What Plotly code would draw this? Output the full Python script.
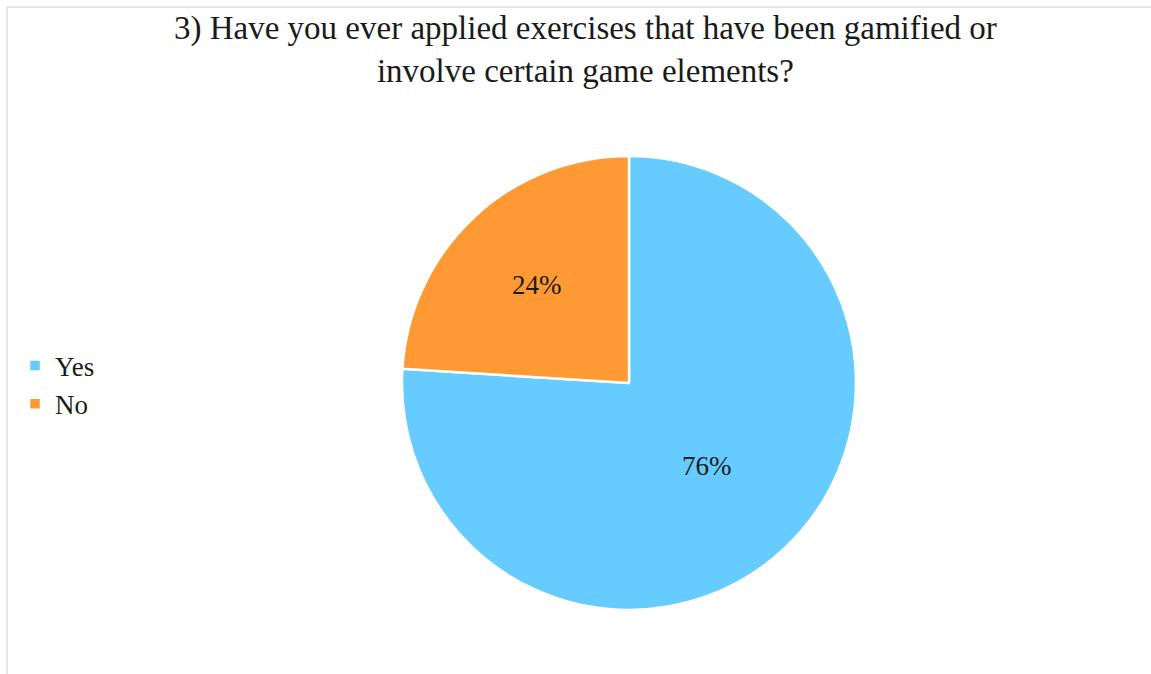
import plotly.graph_objects as go

# Survey answers
labels = ["Yes", "No"]
shares = [76, 24]
colors = ["#66CCFF", "#FF9933"]
title_lines = [
    "3) Have you ever applied exercises that have been gamified or",
    "involve certain game elements?",
]

W, H = 1151, 674
SERIF = "Liberation Serif"

fig = go.Figure(
    go.Pie(
        labels=labels,
        values=shares,
        sort=False,
        direction="clockwise",
        rotation=0,
        marker=dict(colors=colors, line=dict(color="white", width=2.5)),
        texttemplate="%{value}%",
        textposition="inside",
        insidetextorientation="horizontal",
        textfont=dict(family=SERIF, size=27, color="#1a1a1a"),
        hoverinfo="label+percent",
        domain=dict(x=[402 / W, 856 / W], y=[1 - 610 / H, 1 - 156 / H]),
    )
)

fig.update_layout(
    width=W,
    height=H,
    margin=dict(l=0, r=0, t=0, b=0),
    paper_bgcolor="white",
    plot_bgcolor="white",
    font=dict(family=SERIF, color="#1a1a1a"),
    legend=dict(
        x=15 / W,
        xanchor="left",
        y=1 - 385 / H,
        yanchor="middle",
        font=dict(family=SERIF, size=27, color="#1a1a1a"),
        tracegroupgap=0,
    ),
    annotations=[
        dict(
            text="<br>".join(title_lines),
            xref="paper", yref="paper",
            x=585 / W, y=1 - 8 / H,
            xanchor="center", yanchor="top",
            showarrow=False,
            align="center",
            font=dict(family=SERIF, size=33, color="#1a1a1a"),
        )
    ],
    shapes=[
        dict(type="line", xref="paper", yref="paper",
             x0=7 / W, x1=7 / W, y0=0, y1=1 - 7 / H,
             line=dict(color="#e6e6e6", width=2)),
        dict(type="line", xref="paper", yref="paper",
             x0=7 / W, x1=1, y0=1 - 7 / H, y1=1 - 7 / H,
             line=dict(color="#e6e6e6", width=2)),
    ],
)

fig.write_html("out.html")
